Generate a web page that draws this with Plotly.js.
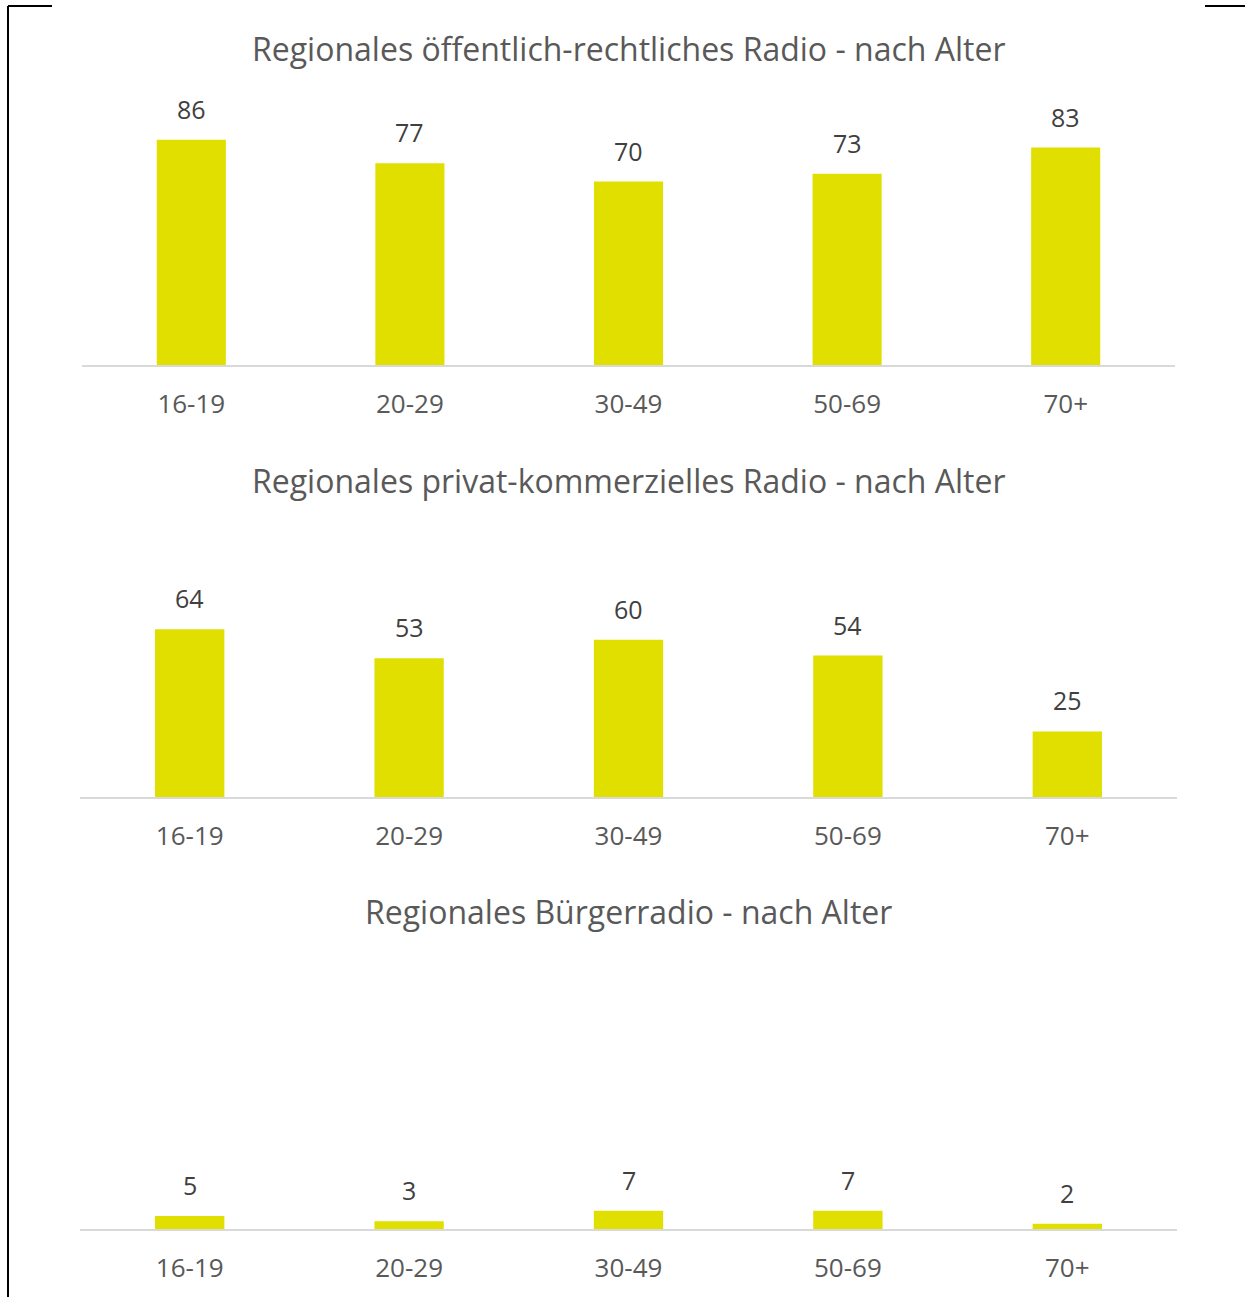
<!DOCTYPE html>
<html>
<head>
<meta charset="utf-8">
<script src="https://cdn.plot.ly/plotly-3.0.1.min.js"></script>
<style>html,body{margin:0;padding:0;background:#fff;}#chart{width:1245px;height:1297px;}</style>
</head>
<body>
<div id="chart"></div>
<script>
const categories = ["16-19", "20-29", "30-49", "50-69", "70+"];
const titles = [
  "Regionales öffentlich-rechtliches Radio - nach Alter",
  "Regionales privat-kommerzielles Radio - nach Alter",
  "Regionales Bürgerradio - nach Alter"
];
const oeffentlichRechtlich = [86, 77, 70, 73, 83];
const privatKommerziell = [64, 53, 60, 54, 25];
const buergerradio = [5, 3, 7, 7, 2];

const seriesList = [oeffentlichRechtlich, privatKommerziell, buergerradio];

const W = 1245, H = 1297;
const FONT = "Open Sans, sans-serif";
const BAR = "#E0DF00";
const baselines = [365, 797, 1229];
const xDomainsPx = [[82, 1175], [80, 1177], [80, 1177]];
const plotH = 250;
const pxPerUnit = 2.62;
const yMax = plotH / pxPerUnit;

const data = [];
const layout = {
  width: W, height: H,
  margin: {l: 0, r: 0, t: 0, b: 0},
  paper_bgcolor: "#ffffff",
  plot_bgcolor: "rgba(0,0,0,0)",
  showlegend: false,
  font: {family: FONT, color: "#595959"},
  annotations: [],
  shapes: [
    {type: "line", xref: "paper", yref: "paper", x0: 8/W, x1: 8/W, y0: 1 - 6/H, y1: 0, line: {color: "#000", width: 2}},
    {type: "line", xref: "paper", yref: "paper", x0: 8/W, x1: 52/W, y0: 1 - 6/H, y1: 1 - 6/H, line: {color: "#000", width: 2}},
    {type: "line", xref: "paper", yref: "paper", x0: 1205/W, x1: 1245/W, y0: 1 - 6/H, y1: 1 - 6/H, line: {color: "#000", width: 2}}
  ]
};

seriesList.forEach((vals, i) => {
  const n = i + 1;
  const xa = n === 1 ? "x" : "x" + n;
  const ya = n === 1 ? "y" : "y" + n;
  const xk = n === 1 ? "xaxis" : "xaxis" + n;
  const yk = n === 1 ? "yaxis" : "yaxis" + n;
  data.push({
    type: "bar", x: categories, y: vals, xaxis: xa, yaxis: ya,
    marker: {color: BAR}, hoverinfo: "none"
  });
  const b = baselines[i];
  const dpx = xDomainsPx[i];
  layout[xk] = {
    domain: [dpx[0]/W, dpx[1]/W], anchor: ya,
    showline: true, linecolor: "#D9D9D9", linewidth: 2,
    showgrid: false, zeroline: false, ticks: "",
    tickfont: {family: FONT, size: 26, color: "#595959"},
    ticklabelstandoff: 15,
    fixedrange: true
  };
  layout[yk] = {
    domain: [(H - b)/H, (H - b + plotH)/H], anchor: xa,
    range: [0, yMax], visible: false, fixedrange: true
  };
  vals.forEach((v, j) => {
    layout.annotations.push({
      xref: xa, yref: ya, x: categories[j], y: v,
      text: String(v), showarrow: false, yanchor: "bottom", yshift: 12,
      font: {family: FONT, size: 25, color: "#404040"}
    });
  });
  layout.annotations.push({
    xref: "paper", yref: "paper", x: (dpx[0] + dpx[1]) / 2 / W, y: (H - (b - 317)) / H,
    text: titles[i], showarrow: false, xanchor: "center", yanchor: "middle",
    font: {family: FONT, size: 32, color: "#595959"}
  });
});

Plotly.newPlot("chart", data, Object.assign(layout, {bargap: 0.684}), {displayModeBar: false, staticPlot: true});
</script>
</body>
</html>
